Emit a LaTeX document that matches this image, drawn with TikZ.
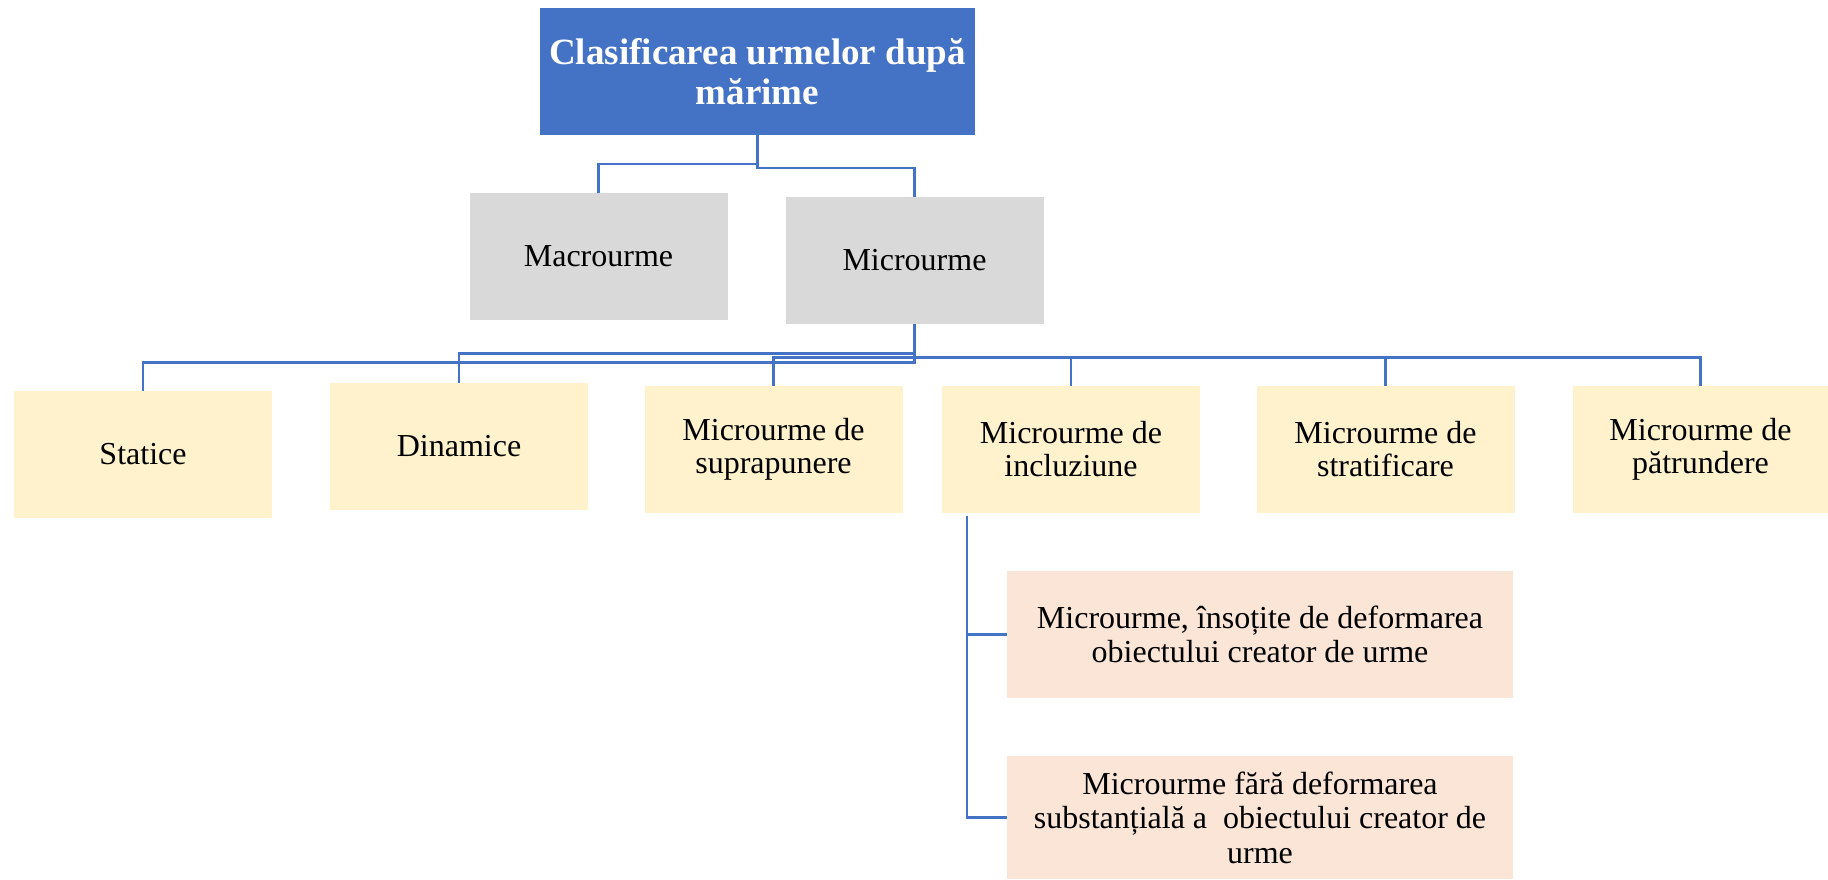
\documentclass[tikz,border=0pt]{standalone}
\usepackage{fontspec}
\setmainfont{Liberation Serif}
\definecolor{titleblue}{HTML}{4472C4}
\definecolor{linkblue}{HTML}{4472C4}
\definecolor{graybox}{HTML}{D9D9D9}
\definecolor{yellowbox}{HTML}{FFF2CC}
\definecolor{pinkbox}{HTML}{FBE5D6}
\begin{document}
\begin{tikzpicture}[x=1pt,y=-1pt,
 box/.style={inner sep=0pt, outer sep=0pt, align=center, font=\fontsize{32}{33}\selectfont, text=black},
 titlebox/.style={box, fill=titleblue, text=white, font=\fontsize{37}{40}\selectfont\bfseries, minimum width=435pt, minimum height=127pt},
 graybx/.style={box, fill=graybox, minimum width=258pt, minimum height=127pt},
 yelbox/.style={box, fill=yellowbox, minimum width=258pt, minimum height=127pt},
 pinkbx/.style={box, fill=pinkbox, minimum width=506pt, font=\fontsize{32}{34.5}\selectfont},
 link/.style={draw=linkblue, line width=2.4pt}
]
\useasboundingbox (0,0) rectangle (1828,879);

\node[titlebox] (title) at (757.5,71.5) {Clasificarea urmelor după\\mărime};
\node[graybx] (macro) at (598.5,256.5) {Macrourme};
\node[graybx] (micro) at (914.5,260) {Microurme};

\node[yelbox] (statice) at (143,454) {Statice};
\node[yelbox] (dinamice) at (459,446) {Dinamice};
\node[yelbox] (supra) at (773.5,449) {Microurme de\\suprapunere};
\node[yelbox] (incl) at (1071,449) {Microurme de\\incluziune};
\node[yelbox] (strat) at (1385.5,449) {Microurme de\\stratificare};
\node[yelbox, minimum width=255pt] (patr) at (1700.5,449) {Microurme de\\pătrundere};

\node[pinkbx, minimum height=127pt] (sub1) at (1260,634.5) {Microurme, însoțite de deformarea\\obiectului creator de urme};
\node[pinkbx, minimum height=123pt] (sub2) at (1260,817.5) {Microurme fără deformarea\\substanțială a\ \ obiectului creator de\\urme};

\draw[link] (title.south) -- ++(0,29) -| (macro.north);
\draw[link] (title.south) -- ++(0,33) -| (micro.north);

\draw[link] (micro.south) -- ++(0,39) -| (statice.north);
\draw[link] (micro.south) ++(0,30) -| (dinamice.north);
\draw[link] (micro.south) ++(0,34) -| (supra.north);
\draw[link] (micro.south) ++(0,34) -| (incl.north);
\draw[link] (micro.south) ++(0,34) -| (strat.north);
\draw[link] (micro.south) ++(0,34) -| (patr.north);

\draw[link] ([xshift=25pt,yshift=-3pt]incl.south west) |- (sub1.west);
\draw[link] ([xshift=25pt,yshift=-3pt]incl.south west) |- (sub2.west);
\end{tikzpicture}
\end{document}
